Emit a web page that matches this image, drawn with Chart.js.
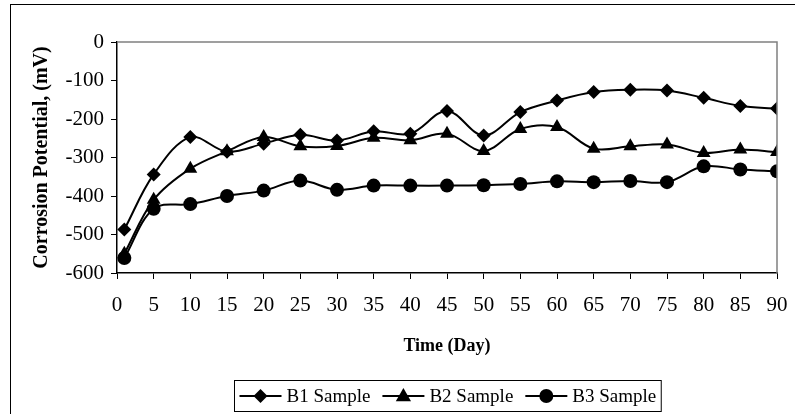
<!DOCTYPE html>
<html>
<head>
<meta charset="utf-8">
<script src="https://cdn.jsdelivr.net/npm/chart.js@4.4.1/dist/chart.umd.min.js"></script>
<style>
  html, body { margin: 0; padding: 0; background: #fff; }
</style>
</head>
<body>
<canvas id="myChart" width="795" height="414"></canvas>
<script>
// data
const days = [1, 5, 10, 15, 20, 25, 30, 35, 40, 45, 50, 55, 60, 65, 70, 75, 80, 85, 90];
const b1 = [-487, -344, -247, -285, -264, -241, -256, -232, -238, -179, -243, -182, -152, -130, -124, -126, -145, -166, -173];
const b2 = [-550, -410, -329, -284, -247, -271, -270, -249, -255, -238, -283, -226, -221, -277, -271, -266, -288, -279, -286];
const b3 = [-561, -433, -421, -400, -386, -360, -384, -373, -373, -373, -372, -369, -362, -364, -361, -364, -323, -331, -336];
const seriesNames = ['B1 Sample', 'B2 Sample', 'B3 Sample'];
const xTicks = [0, 5, 10, 15, 20, 25, 30, 35, 40, 45, 50, 55, 60, 65, 70, 75, 80, 85, 90];
const yTicks = [0, -100, -200, -300, -400, -500, -600];

const serif = "'Liberation Serif', 'Times New Roman', serif";

function drawMarker(ctx, style, x, y, r) {
  ctx.beginPath();
  if (style === 'rectRot') {
    ctx.moveTo(x, y - r);
    ctx.lineTo(x + r, y);
    ctx.lineTo(x, y + r);
    ctx.lineTo(x - r, y);
  } else if (style === 'triangle') {
    ctx.moveTo(x, y - r);
    ctx.lineTo(x + r * 0.95, y + r * 0.65);
    ctx.lineTo(x - r * 0.95, y + r * 0.65);
  } else {
    ctx.arc(x, y, r, 0, Math.PI * 2);
  }
  ctx.closePath();
  ctx.fill();
}

// frame, plot border and the boxed legend
const framePlugin = {
  id: 'frame',
  beforeDraw(chart) {
    const ctx = chart.ctx;
    ctx.save();
    ctx.fillStyle = '#fff';
    ctx.fillRect(0, 0, chart.width, chart.height);
    ctx.strokeStyle = '#000';
    ctx.lineWidth = 1;
    ctx.strokeRect(10.5, 4.5, 800, 430);
    ctx.restore();
  },
  afterDraw(chart) {
    const ctx = chart.ctx;
    const a = chart.chartArea;
    ctx.save();
    ctx.strokeStyle = '#808080';
    ctx.lineWidth = 1.5;
    ctx.beginPath();
    ctx.moveTo(a.left, a.top);
    ctx.lineTo(a.right, a.top);
    ctx.lineTo(a.right, a.bottom);
    ctx.stroke();

    // legend
    ctx.font = '19px ' + serif;
    ctx.textBaseline = 'middle';
    const lineLen = 42, gap = 5, itemGap = 12, pad = 5;
    const items = chart.data.datasets.map(ds => ({
      ds, w: lineLen + gap + ctx.measureText(ds.label).width
    }));
    const total = items.reduce((s, it) => s + it.w, 0) + itemGap * (items.length - 1) + pad * 2;
    const boxL = Math.round(447 - total / 2) + 0.5;
    const boxT = 380.5, boxH = 31;
    ctx.strokeStyle = '#000';
    ctx.lineWidth = 1;
    ctx.strokeRect(boxL, boxT, total, boxH);
    let x = boxL + pad;
    const cy = boxT + boxH / 2;
    items.forEach(it => {
      ctx.strokeStyle = '#000';
      ctx.lineWidth = 2;
      ctx.beginPath();
      ctx.moveTo(x, cy);
      ctx.lineTo(x + lineLen, cy);
      ctx.stroke();
      ctx.fillStyle = '#000';
      drawMarker(ctx, it.ds.pointStyle, x + lineLen / 2, cy, it.ds.pointRadius);
      ctx.fillText(it.ds.label, x + lineLen + gap, cy + 1);
      x += it.w + itemGap;
    });
    ctx.restore();
  }
};

const styles = ['rectRot', 'triangle', 'circle'];
const radii = [7, 8, 7];

new Chart(document.getElementById('myChart'), {
  type: 'line',
  data: {
    datasets: [b1, b2, b3].map((vals, i) => ({
      label: seriesNames[i],
      data: days.map((d, j) => ({ x: d, y: vals[j] })),
      borderColor: '#000',
      backgroundColor: '#000',
      borderWidth: 2,
      pointStyle: styles[i],
      pointRadius: radii[i],
      pointBorderWidth: 0,
      tension: 0.35
    }))
  },
  options: {
    responsive: false,
    animation: false,
    layout: { padding: { left: 0, top: 42, right: 18, bottom: 51 } },
    plugins: { legend: { display: false }, tooltip: { enabled: false } },
    scales: {
      x: {
        type: 'linear',
        min: 0,
        max: 90,
        afterBuildTicks: s => { s.ticks = xTicks.map(v => ({ value: v })); },
        afterFit: s => { s.height = 90; s.paddingLeft = 0; s.paddingRight = 0; },
        ticks: { color: '#000', font: { family: serif, size: 21 }, padding: 14, maxRotation: 0, autoSkip: false },
        grid: { drawOnChartArea: false, color: '#000', tickLength: 6, lineWidth: 1 },
        border: { color: '#000', width: 1.5 },
        title: {
          display: true, text: 'Time (Day)', color: '#000',
          font: { family: serif, size: 18, weight: 'bold' }, padding: { top: 0, bottom: 6 }
        }
      },
      y: {
        min: -600,
        max: 0,
        afterBuildTicks: s => { s.ticks = yTicks.map(v => ({ value: v })); },
        afterFit: s => { s.width = 117; s.paddingTop = 0; s.paddingBottom = 0; },
        ticks: { color: '#000', font: { family: serif, size: 21 }, padding: 7 },
        grid: { drawOnChartArea: false, color: '#000', tickLength: 6, lineWidth: 1 },
        border: { color: '#000', width: 1.5 },
        title: {
          display: true, text: 'Corrosion Potential, (mV)', color: '#000',
          font: { family: serif, size: 20, weight: 'bold' }, padding: { top: 30, bottom: 0 }
        }
      }
    }
  },
  plugins: [framePlugin]
});
</script>
</body>
</html>
